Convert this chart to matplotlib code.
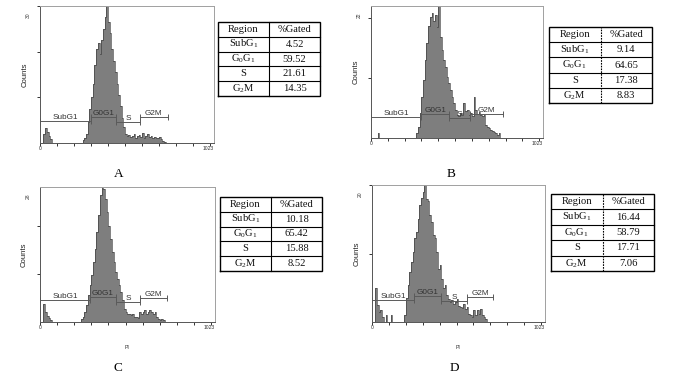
import matplotlib
matplotlib.use('Agg')
import matplotlib.pyplot as plt
import numpy as np

plt.rcParams['font.family'] = ['Liberation Sans', 'DejaVu Sans']
plt.rcParams['mathtext.fontset'] = 'custom'
plt.rcParams['mathtext.rm'] = 'Liberation Serif'
plt.rcParams['mathtext.it'] = 'Liberation Serif:italic'

# ---------------- data ----------------
BIN_WIDTH = 10  # PI channels per histogram bin, starting at channel 0

counts_A = [0, 0, 2.0, 3.2, 2.4, 1.6, 0.8,
            0, 0, 0, 0, 0, 0, 0, 0, 0, 0, 0, 0, 0, 0, 0, 0, 0, 0,
            0.6, 1.2, 2.0, 4.5, 7.5, 10.0, 13.0, 17.0, 20.5, 21.8,
            19.5, 22.5, 25.0, 27.5, 31.0, 26.5, 24.0, 20.5, 18.0, 15.5,
            13.0, 10.5, 8.0, 5.5, 3.5, 2.0, 1.5, 1.8, 1.3, 1.6,
            2.0, 1.2, 1.5, 1.8, 1.4, 2.2, 1.2, 1.6, 1.9, 1.3,
            1.5, 1.1, 1.4, 1.2, 1.0, 1.3, 0.8, 0.4, 0.3]

counts_B = [0, 0, 0, 0, 0.9, 0, 0, 0, 0, 0,
            0, 0, 0, 0, 0, 0, 0, 0, 0, 0, 0, 0, 0, 0, 0, 0, 0,
            0.8, 1.9, 4.2, 6.9, 9.7, 13.0, 15.8, 18.6, 20.2, 20.8,
            19.5, 20.5, 18.5, 22.5, 16.9, 14.7, 13.0, 11.9, 10.2, 9.1,
            8.0, 6.9, 5.8, 4.7, 3.9, 3.6, 4.2, 3.8, 5.8, 4.5,
            4.7, 3.8, 4.2, 3.6, 6.9, 4.7, 4.0, 4.4, 3.9, 3.6,
            3.9, 2.2, 1.9, 1.7, 1.4, 1.1, 1.0, 0.8, 0.5, 0.8]

counts_C = [0, 0, 3.8, 2.0, 1.2, 0.8, 0.5,
            0, 0, 0, 0, 0, 0, 0, 0, 0, 0, 0, 0, 0, 0, 0, 0, 0,
            0.7, 1.0, 2.1, 3.5, 5.5, 7.6, 9.7, 12.4, 15.2, 18.7, 22.1,
            26.3, 29.0, 27.6, 25.6, 22.8, 20.0, 17.3, 14.5, 12.4, 10.4,
            9.0, 7.6, 6.2, 4.5, 2.8, 2.1, 1.7, 1.7, 1.4, 1.7,
            1.0, 1.0, 0.8, 2.1, 1.7, 2.1, 2.4, 1.7, 2.1, 2.4,
            2.1, 1.7, 2.1, 1.0, 0.7, 0.5, 0.7, 0.4]

counts_D = [0, 0, 4.9, 2.5, 1.5, 1.7, 0.7, 0, 1.0, 0, 0, 1.0,
            0, 0, 0, 0, 0, 0, 0,
            1.0, 3.5, 5.4, 7.3, 8.8, 10.2, 12.2, 13.2, 15.1, 17.1, 18.1,
            19.0, 20.5, 18.0, 17.6, 15.6, 14.6, 12.7, 12.2, 10.2, 7.8,
            8.3, 6.3, 4.9, 5.4, 3.9, 3.4, 2.9, 3.2, 2.7, 2.9,
            3.4, 2.4, 2.2, 2.0, 2.6, 1.9, 2.2, 1.2, 1.0, 0.7,
            1.7, 1.0, 1.7, 1.2, 1.9, 1.0, 0.7, 0.5]

y_max = [30, 22, 28, 20]

gate_names = ['SubG1', 'G0G1', 'S', 'G2M']
gate_start_A = [0, 297, 447, 588]
gate_end_A = [297, 447, 588, 750]
gate_level_A = [4.8, 5.7, 4.6, 5.6]
gate_start_B = [0, 297, 466, 589]
gate_end_B = [297, 466, 589, 783]
gate_level_B = [3.5, 4.0, 3.3, 4.0]
gate_start_C = [0, 292, 444, 585]
gate_end_C = [292, 444, 585, 744]
gate_level_C = [4.5, 5.2, 4.1, 5.0]
gate_start_D = [0, 250, 408, 560]
gate_end_D = [250, 408, 560, 717]
gate_level_D = [3.2, 3.8, 3.0, 3.7]

table_regions = ['SubG$_\\mathrm{1}$', 'G$_\\mathrm{0}$G$_\\mathrm{1}$', 'S', 'G$_\\mathrm{2}$M']
gated_A = ['4.52', '59.52', '21.61', '14.35']
gated_B = ['9.14', '64.65', '17.38', '8.83']
gated_C = ['10.18', '65.42', '15.88', '8.52']
gated_D = ['16.44', '58.79', '17.71', '7.06']

panel_letters = ['A', 'B', 'C', 'D']

# ---------------- layout (pixels) ----------------
W, H = 700, 383
fig = plt.figure(figsize=(W / 100, H / 100), dpi=100)


def px_axes(left, top, right, bottom):
    return fig.add_axes([left / W, 1 - bottom / H, (right - left) / W, (bottom - top) / H])


hist_boxes = [(40, 6, 214, 143), (371, 6, 543, 138), (40, 187, 215, 322), (372, 185, 545, 322)]
table_boxes = [(218, 22, 320, 96), (549, 27, 652, 103), (220, 197, 322, 271), (551, 194, 654, 271)]
letter_pos = [(119, 174), (451, 174), (118, 368), (454, 368)]
show_pi = [False, False, True, True]
dashed_div = [False, True, False, True]

all_counts = [counts_A, counts_B, counts_C, counts_D]
all_starts = [gate_start_A, gate_start_B, gate_start_C, gate_start_D]
all_ends = [gate_end_A, gate_end_B, gate_end_C, gate_end_D]
all_levels = [gate_level_A, gate_level_B, gate_level_C, gate_level_D]
all_gated = [gated_A, gated_B, gated_C, gated_D]

FILL = '#7e7e7e'
EDGE = '#3c3c3c'
GATE = '#5a5a5a'

for i in range(4):
    ax = px_axes(*hist_boxes[i])
    counts = np.array(all_counts[i])
    edges = np.arange(len(counts) + 1) * BIN_WIDTH
    ax.stairs(counts, edges, fill=True, color=FILL, lw=0)
    ax.stairs(counts, edges, fill=False, color=EDGE, lw=0.45)
    ax.set_xlim(0, 1023)
    ax.set_ylim(0, y_max[i])

    # gates
    for s, e, lv, nm in zip(all_starts[i], all_ends[i], all_levels[i], gate_names):
        ax.plot([s, e], [lv, lv], color=GATE, lw=0.7, marker='|', markersize=4,
                markeredgewidth=0.7, clip_on=False)
        ax.text((s + e) / 2, lv, nm, ha='center', va='bottom', fontsize=5.9,
                color='#333333')

    # ticks
    ax.set_xticks(np.arange(0, 1001, 100))
    ax.set_xticklabels([])
    ax.set_yticks([t for t in (10, 20, 30) if t <= y_max[i]])
    ax.set_yticklabels([])
    ax.tick_params(direction='out', length=2, width=0.7, colors='#333333')
    for sp in ('top', 'right'):
        ax.spines[sp].set_color('#a0a0a0')
        ax.spines[sp].set_linewidth(0.7)
    for sp in ('left', 'bottom'):
        ax.spines[sp].set_color('#555555')
        ax.spines[sp].set_linewidth(0.7)

    ax.text(0, -0.02, '0', transform=ax.get_xaxis_transform(), ha='center', va='top',
            fontsize=3.6, color='#333333')
    ax.text(1.0, -0.02, '1023', transform=ax.transAxes, ha='right', va='top',
            fontsize=3.6, color='#333333')
    ax.text(-0.068, 0.93, str(y_max[i]), transform=ax.transAxes, rotation=90,
            ha='center', va='center', fontsize=3.6, color='#333333')
    ax.set_ylabel('Counts', fontsize=5.6, color='#222222')
    ax.yaxis.set_label_coords(-0.068, 0.5)
    if show_pi[i]:
        ax.set_xlabel('PI', fontsize=3.8, color='#333333', labelpad=11)

    # table
    l, t, r, b = table_boxes[i]
    tax = px_axes(l, t, r, b)
    tax.set_xlim(0, 2)
    tax.set_ylim(0, 5)
    tax.axis('off')
    tax.plot([0, 2, 2, 0, 0], [0, 0, 5, 5, 0], color='black', lw=1.0,
             solid_joinstyle='miter', clip_on=False)
    for rr in range(1, 5):
        tax.plot([0, 2], [rr, rr], color='black', lw=0.8, clip_on=False)
    tax.plot([1, 1], [0, 5], color='black', lw=0.8, clip_on=False,
             ls=(0, (1.5, 1.0)) if dashed_div[i] else '-')
    rows = [('Region', '%Gated')] + list(zip(table_regions, all_gated[i]))
    for k, (a, v) in enumerate(rows):
        yy = 4.5 - k
        tax.text(0.5, yy, a, ha='center', va='center', fontsize=7.6,
                 family='Liberation Serif', color='#111111')
        tax.text(1.5, yy, v, ha='center', va='center', fontsize=7.6,
                 family='Liberation Serif', color='#111111')

    fig.text(letter_pos[i][0] / W, 1 - letter_pos[i][1] / H, panel_letters[i],
             ha='center', va='center', fontsize=9.5, family='Liberation Serif')

fig.savefig('out.png', dpi=100)
